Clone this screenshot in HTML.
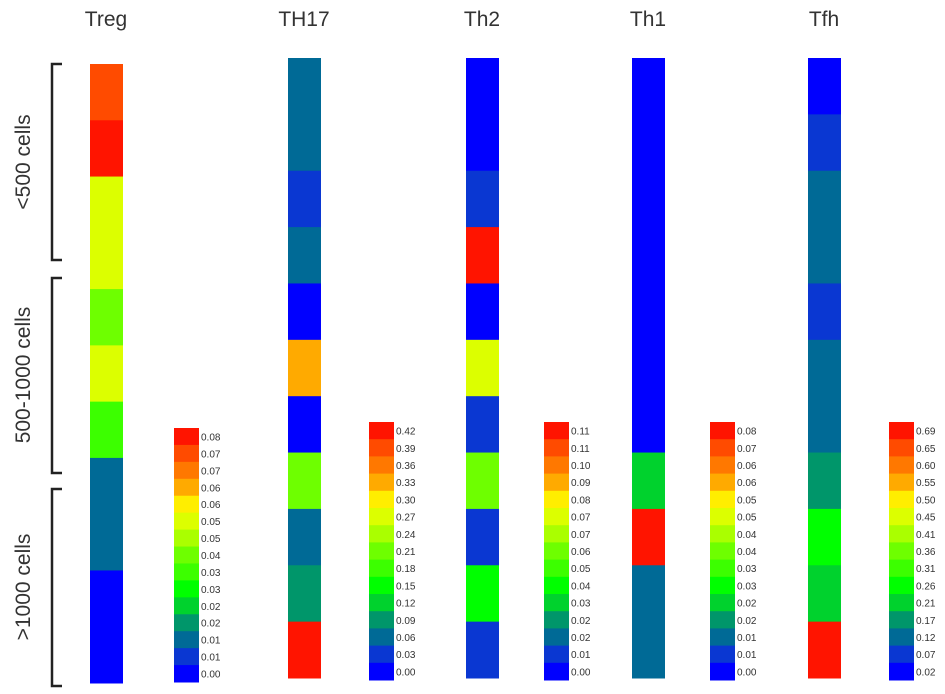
<!DOCTYPE html>
<html><head><meta charset="utf-8"><style>
html,body{margin:0;padding:0;background:#fff}
svg{display:block}
text{font-family:"Liberation Sans",sans-serif}
</style></head><body>
<svg id="chart" width="945" height="694" xmlns="http://www.w3.org/2000/svg">
<g id="brackets" stroke="#222" stroke-width="2.5" fill="none">
<path d="M62,64 H52 V260 H62"/>
<path d="M62,278 H52 V473 H62"/>
<path d="M62,489 H52 V686 H62"/>
</g>
<text transform="translate(30,162) rotate(-90)" text-anchor="middle" font-size="21" fill="#333">&lt;500 cells</text>
<text transform="translate(30,375) rotate(-90)" text-anchor="middle" font-size="21" fill="#333">500-1000 cells</text>
<text transform="translate(30,587) rotate(-90)" text-anchor="middle" font-size="21" fill="#333">&gt;1000 cells</text>
<g id="cols"></g>
</svg>
<script>
const palette = ["#0000ff","#0a37d2","#006a96","#00966a","#00d22d","#00ff00","#3cff00","#6eff00","#aaff00","#dcff00","#ffee00","#ffaa00","#ff7800","#ff4b00","#ff1400"];
const panels = ["Treg","TH17","Th2","Th1","Tfh"];
const tregLevels = [13,14,9,9,7,9,6,2,2,0,0];
const th17Levels = [2,2,1,2,0,11,0,7,2,3,14];
const th2Levels = [0,0,1,14,0,9,1,7,1,5,1];
const th1Levels = [0,0,0,0,0,0,0,4,14,2,2];
const tfhLevels = [0,1,2,2,1,2,2,3,5,4,14];
const tregTicks = ["0.08","0.07","0.07","0.06","0.06","0.05","0.05","0.04","0.03","0.03","0.02","0.02","0.01","0.01","0.00"];
const th17Ticks = ["0.42","0.39","0.36","0.33","0.30","0.27","0.24","0.21","0.18","0.15","0.12","0.09","0.06","0.03","0.00"];
const th2Ticks = ["0.11","0.11","0.10","0.09","0.08","0.07","0.07","0.06","0.05","0.04","0.03","0.02","0.02","0.01","0.00"];
const th1Ticks = ["0.08","0.07","0.06","0.06","0.05","0.05","0.04","0.04","0.03","0.03","0.02","0.02","0.01","0.01","0.00"];
const tfhTicks = ["0.69","0.65","0.60","0.55","0.50","0.45","0.41","0.36","0.31","0.26","0.21","0.17","0.12","0.07","0.02"];
const levels = [tregLevels, th17Levels, th2Levels, th1Levels, tfhLevels];
const ticks = [tregTicks, th17Ticks, th2Ticks, th1Ticks, tfhTicks];
const colX = [90,288,466,632,808], colW = 33;
const colTop = [64,58,58,58,58], colBot = [683,678,678,678,678];
const titleX = [106,304,482,648,824];
const barX = [174,369,544,710,889], barW = 25;
const barTop = [428,422,422,422,422], barBot = [682,680,680,680,680];
const NS = "http://www.w3.org/2000/svg";
const g = document.getElementById("cols");
function mk(tag, attrs){const e=document.createElementNS(NS,tag);for(const k in attrs)e.setAttribute(k,attrs[k]);return e;}
panels.forEach((p,i)=>{
  const t = mk("text",{x:titleX[i],y:26,"text-anchor":"middle","font-size":21,fill:"#333"});
  t.textContent = p;
  
  
  g.appendChild(t);
  const lv = levels[i], n = lv.length, h = (colBot[i]-colTop[i])/n;
  lv.forEach((v,j)=>{
    const r = mk("rect",{x:colX[i],y:colTop[i]+j*h,width:colW,height:h+0.5,fill:palette[v]});
    
    
    g.appendChild(r);
  });
  const tk = ticks[i], m = tk.length, bh = (barBot[i]-barTop[i])/m;
  tk.forEach((lab,j)=>{
    const r = mk("rect",{x:barX[i],y:barTop[i]+j*bh,width:barW,height:bh+0.5,fill:palette[m-1-j]});
    
    
    g.appendChild(r);
    const tt = mk("text",{x:barX[i]+barW+2,y:barTop[i]+j*bh+bh/2+4,"font-size":10,fill:"#333"});
    tt.textContent = lab;
    
    
    g.appendChild(tt);
  });
});
</script>
</body></html>
